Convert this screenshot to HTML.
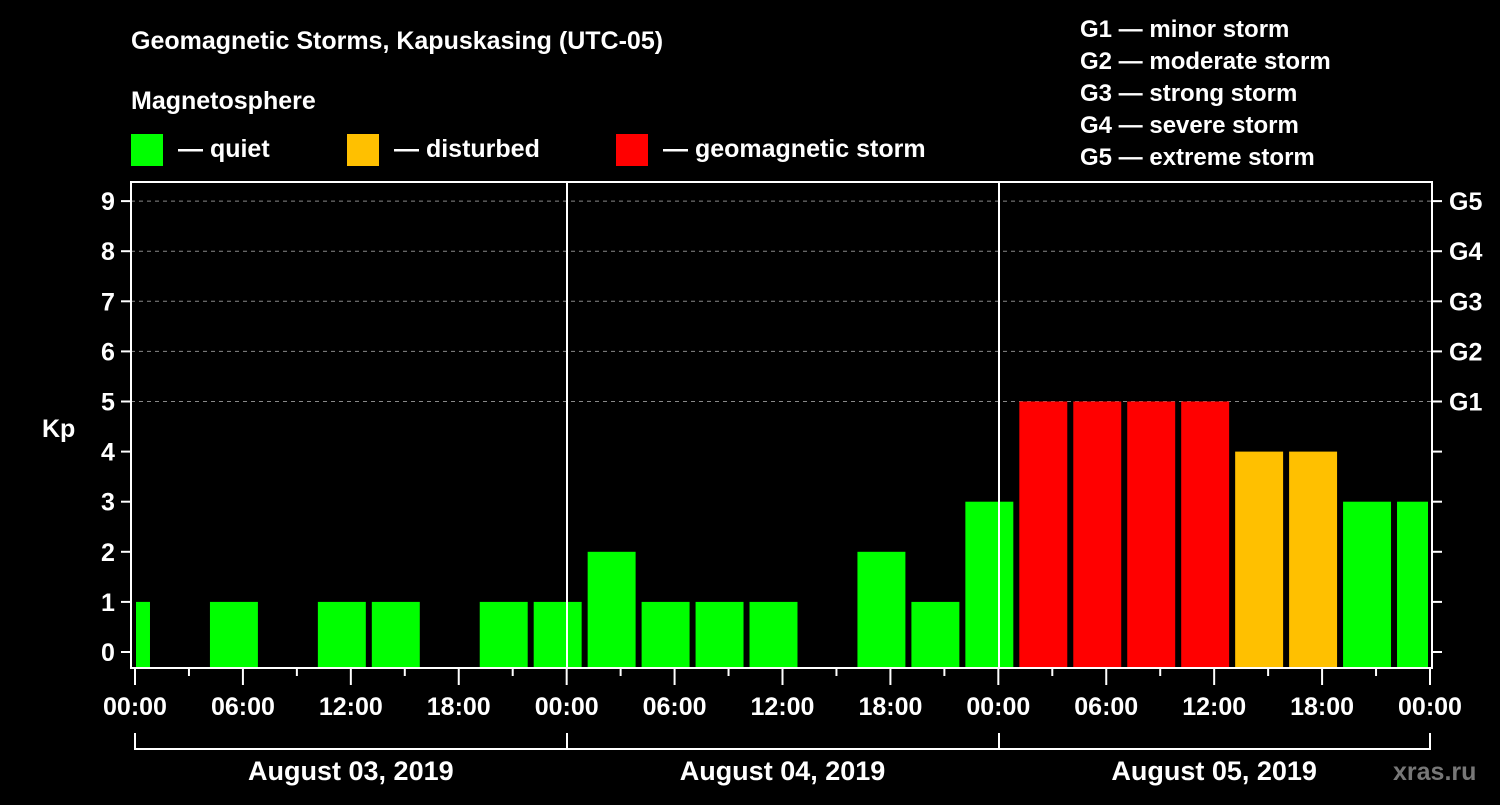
<!DOCTYPE html>
<html><head><meta charset="utf-8"><style>
body{margin:0;background:#000;width:1500px;height:800px;overflow:hidden}
svg text{font-family:"Liberation Sans",Arial,sans-serif;font-weight:bold;fill:#fff}
</style></head><body>
<svg id="chart" width="1500" height="800" xmlns="http://www.w3.org/2000/svg">
<rect width="1500" height="800" fill="#000"/>
<text x="131" y="49" font-size="25">Geomagnetic Storms, Kapuskasing (UTC-05)</text>
<text x="131" y="109" font-size="25">Magnetosphere</text>
<g><rect x="131" y="134" width="32" height="32" fill="#00ff00"/><text x="178" y="157" font-size="25">— quiet</text></g>
<g><rect x="347" y="134" width="32" height="32" fill="#ffc000"/><text x="394" y="157" font-size="25">— disturbed</text></g>
<g><rect x="616" y="134" width="32" height="32" fill="#ff0000"/><text x="663" y="157" font-size="25">— geomagnetic storm</text></g>
<g font-size="24">
<text x="1080" y="37">G1 — minor storm</text>
<text x="1080" y="69">G2 — moderate storm</text>
<text x="1080" y="101">G3 — strong storm</text>
<text x="1080" y="133">G4 — severe storm</text>
<text x="1080" y="165">G5 — extreme storm</text>
</g>
<text x="42" y="437" font-size="25">Kp</text>
<text x="1393" y="780" font-size="25" style="fill:#777">xras.ru</text>
<g id="grid"></g><g id="bars"></g><g id="axes"></g>
</svg>
<script>
const kpValues=[1,0,1,0,1,1,0,1,1, 2,1,1,1,0,2,1,3, 5,5,5,5,4,4,3,3];
const yTicks=[0,1,2,3,4,5,6,7,8,9];
const gLabels=["G1","G2","G3","G4","G5"];
const xTickLabels=["00:00","06:00","12:00","18:00","00:00","06:00","12:00","18:00","00:00","06:00","12:00","18:00","00:00"];
const dayLabels=["August 03, 2019","August 04, 2019","August 05, 2019"];
const binOffsetHours=-2, binHours=3;
const X0=135,X1=1430,hours=72;
const x=h=>X0+(X1-X0)*h/hours;
const y=v=>652-v*50.1;
const NS="http://www.w3.org/2000/svg";
function mk(tag,attrs,parent){const e=document.createElementNS(NS,tag);for(const k in attrs)e.setAttribute(k,attrs[k]);document.getElementById(parent).appendChild(e);return e;}
// grid
for(let v=5;v<=9;v++){const l=mk('line',{x1:131,x2:1432,y1:y(v),y2:y(v),stroke:'#888','stroke-dasharray':'4,4','stroke-width':1},'grid');

}
// bars
kpValues.forEach((v,i)=>{if(v<=0)return;
let a=x(binOffsetHours+i*binHours)+3,b=x(binOffsetHours+(i+1)*binHours)-3;
a=Math.max(a,136);b=Math.min(b,1428);
const c=v>=5?'#ff0000':(v>=4?'#ffc000':'#00ff00');
const r=mk('rect',{x:a,y:y(v),width:b-a,height:668-y(v),fill:c},'bars');

});
// axes
const ax={stroke:'#fff','stroke-width':2,fill:'none'};
const frame=mk('path',Object.assign({d:'M131,182H1432V668H131Z'},ax),'axes');


[567,999].forEach(px=>{const l=mk('line',{x1:px,x2:px,y1:182,y2:668,stroke:'#fff','stroke-width':2},'axes');

});
yTicks.forEach(v=>{mk('line',{x1:121,x2:131,y1:y(v),y2:y(v),stroke:'#fff','stroke-width':2},'axes');
mk('line',{x1:1432,x2:1442,y1:y(v),y2:y(v),stroke:'#fff','stroke-width':2},'axes');
const t=mk('text',{x:108,y:y(v)+9,'font-size':25,'text-anchor':'middle'},'axes');t.textContent=v;

});
gLabels.forEach((g,i)=>{const t=mk('text',{x:1449,y:y(5+i)+9,'font-size':25},'axes');t.textContent=g;

});
for(let h=0;h<=72;h+=3){const major=h%6===0;mk('line',{x1:x(h),x2:x(h),y1:669,y2:major?685:676,stroke:'#fff','stroke-width':2},'axes');}
xTickLabels.forEach((s,i)=>{const t=mk('text',{x:x(i*6),y:715,'font-size':25,'text-anchor':'middle'},'axes');t.textContent=s;

});
const br=mk('path',Object.assign({d:'M135,733V749H1430V733M567,733V749M999,733V749'},ax),'axes');


dayLabels.forEach((s,i)=>{const t=mk('text',{x:x(i*24+12),y:780,'font-size':27,'text-anchor':'middle'},'axes');t.textContent=s;

});
</script>
</body></html>
